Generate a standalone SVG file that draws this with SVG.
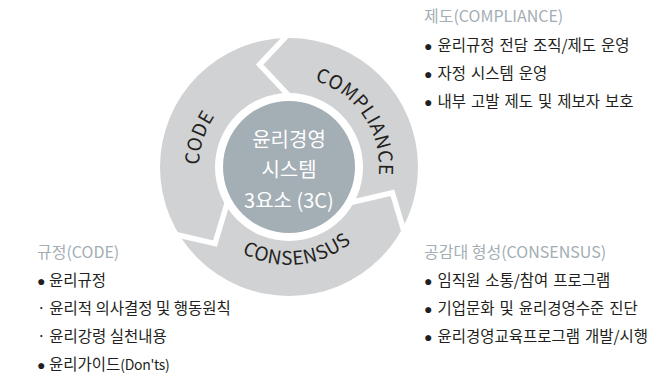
<svg xmlns="http://www.w3.org/2000/svg" width="656" height="378" viewBox="0 0 656 378">
<style>
.t{font-family:"Noto Sans CJK KR","Noto Sans",sans-serif;font-size:15.5px;fill:#231f20;word-spacing:1.5px}
.l{word-spacing:0}
.h{fill:#a3adb4;font-size:16px;word-spacing:0}
.b{font-family:"Liberation Sans",sans-serif;font-size:14px}
.n{font-size:14px;letter-spacing:-0.3px}
.arc{font-family:"Noto Sans CJK KR","Noto Sans",sans-serif;font-size:19px;fill:#231f20;letter-spacing:0.6px}
.ctr{font-family:"Noto Sans CJK KR","Noto Sans",sans-serif;font-size:20px;fill:#ffffff;text-anchor:middle}
.gap{fill:none;stroke:#ffffff;stroke-width:5.5;stroke-linejoin:miter}
</style>
<defs>
<path id="pCode" d="M222.1,227.2 A90,90 0 0 1 270.3,79.0"/>
<path id="pComp" d="M282.7,77.2 A90,90 0 0 1 369.9,206.5"/>
<path id="pCons" d="M209.2,223.9 A98,98 0 0 0 378.2,207.6"/>
</defs>
<rect width="656" height="378" fill="#ffffff"/>
<g id="cycle">
<circle cx="289" cy="167" r="129" fill="#d1d2d4"/>
<g id="connectors">
<polyline class="gap" points="294.4,101.6 259.65,64.62 289.5,32.8"/>
<polyline class="gap" points="342.9,204.4 392.34,192.76 405.0,234.6"/>
<polyline class="gap" points="229.6,195.0 215.02,243.6 172.5,233.8"/>
</g>
<circle cx="289" cy="167" r="74" fill="#ffffff"/>
</g>
<g id="node-center">
<circle cx="289" cy="167" r="66" fill="#a3aeb5"/>
<text class="ctr" x="289" y="147">윤리경영</text>
<text class="ctr" x="289" y="177">시스템</text>
<text class="ctr" x="289" y="208">3요소 (3C)</text>
</g>
<g id="node-code">
<text class="arc"><textPath href="#pCode" startOffset="50%" text-anchor="middle">CODE</textPath></text>
</g>
<g id="node-compliance">
<text class="arc"><textPath href="#pComp" startOffset="50%" text-anchor="middle">COMPLIANCE</textPath></text>
</g>
<g id="node-consensus">
<text class="arc"><textPath href="#pCons" startOffset="50%" text-anchor="middle">CONSENSUS</textPath></text>
</g>
<g id="list-compliance">
<text class="t h" x="424" y="21.5">제도(COMPLIANCE)</text>
<text class="t" x="424" y="50.5"><tspan class="b">●</tspan> 윤리규정 전담 조직/제도 운영</text>
<text class="t" x="424" y="78.5"><tspan class="b">●</tspan> 자정 시스템 운영</text>
<text class="t" x="424" y="106.5"><tspan class="b">●</tspan> 내부 고발 제도 및 제보자 보호</text>
</g>
<g id="list-consensus">
<text class="t h" x="424" y="257.5">공감대 형성(CONSENSUS)</text>
<text class="t" x="424" y="285.5"><tspan class="b">●</tspan> 임직원 소통/참여 프로그램</text>
<text class="t" x="424" y="313.5"><tspan class="b">●</tspan> 기업문화 및 윤리경영수준 진단</text>
<text class="t" x="424" y="341.5"><tspan class="b">●</tspan> 윤리경영교육프로그램 개발/시행</text>
</g>
<g id="list-code">
<text class="t h" x="37" y="257.5">규정(CODE)</text>
<text class="t l" x="37" y="285.5"><tspan class="b">●</tspan> 윤리규정</text>
<text class="t l" x="37" y="313.5">· 윤리적 의사결정 및 행동원칙</text>
<text class="t l" x="37" y="341.5">· 윤리강령 실천내용</text>
<text class="t l" x="37" y="369.5"><tspan class="b">●</tspan> 윤리가이드<tspan class="n">(Don'ts)</tspan></text>
</g>
</svg>
